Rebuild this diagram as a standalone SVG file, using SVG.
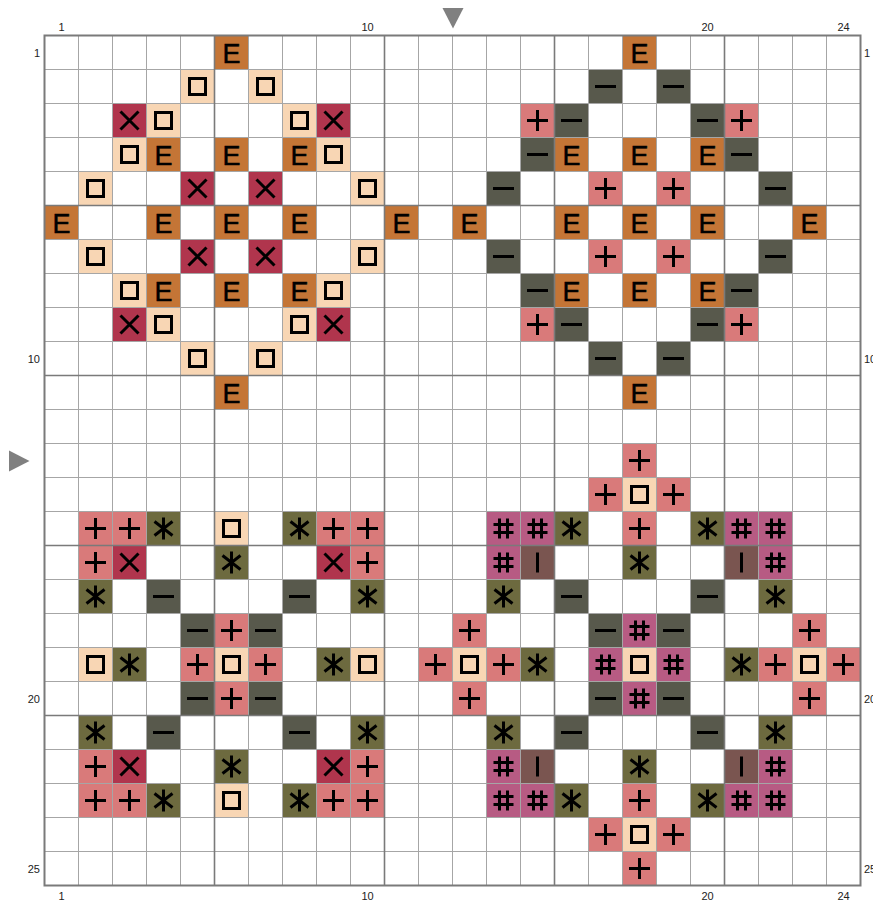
<svg xmlns="http://www.w3.org/2000/svg" xmlns:xlink="http://www.w3.org/1999/xlink" width="873" height="902" viewBox="0 0 873 902">
<style>
.g{stroke:#000;stroke-width:3;fill:none;stroke-linecap:butt}
.et{font-family:"Liberation Sans",Arial,sans-serif;font-size:28px;fill:#000;stroke:#000;stroke-width:0.5;text-anchor:middle}
.lb{font-family:"Liberation Sans",Arial,sans-serif;font-size:11px;fill:#222}
.minor{stroke:#a6a6a6;stroke-width:1}
.major{stroke:#7a7a7a;stroke-width:1.6}
</style>
<defs>
<g id="S"><rect width="34" height="34" fill="#f8d6b4"/><rect class="g" x="9" y="9" width="16" height="16"/></g>
<g id="X"><rect width="34" height="34" fill="#b0354d"/><path class="g" d="M8 8L26 26M26 8L8 26"/></g>
<g id="M"><rect width="34" height="34" fill="#58594c"/><path class="g" d="M6.5 17H27.5"/></g>
<g id="P"><rect width="34" height="34" fill="#d97a7a"/><path class="g" d="M6.5 17H27.5M17 6.5V27.5"/></g>
<g id="A"><rect width="34" height="34" fill="#6d6a3f"/><path class="g" d="M17 6V28M8 10L26 24M26 10L8 24"/></g>
<g id="H"><rect width="34" height="34" fill="#b75b83"/><path class="g" d="M13 7V27M21 7V27M7 13H27M7 21H27"/></g>
<g id="I"><rect width="34" height="34" fill="#7a5550"/><path class="g" d="M17 7V27"/></g>
<rect id="Eb" width="34" height="34" fill="#c47536"/>
</defs>
<g id="pattern-top-left">
<use href="#Eb" x="214.5" y="35.5"/><text class="et" x="231.5" y="62.5" textLength="18" lengthAdjust="spacingAndGlyphs">E</text>
<use href="#S" x="180.5" y="69.5"/><use href="#S" x="248.5" y="69.5"/>
<use href="#X" x="112.5" y="103.5"/><use href="#S" x="146.5" y="103.5"/><use href="#S" x="282.5" y="103.5"/><use href="#X" x="316.5" y="103.5"/>
<use href="#S" x="112.5" y="137.5"/><use href="#Eb" x="146.5" y="137.5"/><text class="et" x="163.5" y="164.5" textLength="18" lengthAdjust="spacingAndGlyphs">E</text><use href="#Eb" x="214.5" y="137.5"/><text class="et" x="231.5" y="164.5" textLength="18" lengthAdjust="spacingAndGlyphs">E</text><use href="#Eb" x="282.5" y="137.5"/><text class="et" x="299.5" y="164.5" textLength="18" lengthAdjust="spacingAndGlyphs">E</text><use href="#S" x="316.5" y="137.5"/>
<use href="#S" x="78.5" y="171.5"/><use href="#X" x="180.5" y="171.5"/><use href="#X" x="248.5" y="171.5"/><use href="#S" x="350.5" y="171.5"/>
<use href="#Eb" x="44.5" y="205.5"/><text class="et" x="61.5" y="232.5" textLength="18" lengthAdjust="spacingAndGlyphs">E</text><use href="#Eb" x="146.5" y="205.5"/><text class="et" x="163.5" y="232.5" textLength="18" lengthAdjust="spacingAndGlyphs">E</text><use href="#Eb" x="214.5" y="205.5"/><text class="et" x="231.5" y="232.5" textLength="18" lengthAdjust="spacingAndGlyphs">E</text><use href="#Eb" x="282.5" y="205.5"/><text class="et" x="299.5" y="232.5" textLength="18" lengthAdjust="spacingAndGlyphs">E</text><use href="#Eb" x="384.5" y="205.5"/><text class="et" x="401.5" y="232.5" textLength="18" lengthAdjust="spacingAndGlyphs">E</text>
<use href="#S" x="78.5" y="239.5"/><use href="#X" x="180.5" y="239.5"/><use href="#X" x="248.5" y="239.5"/><use href="#S" x="350.5" y="239.5"/>
<use href="#S" x="112.5" y="273.5"/><use href="#Eb" x="146.5" y="273.5"/><text class="et" x="163.5" y="300.5" textLength="18" lengthAdjust="spacingAndGlyphs">E</text><use href="#Eb" x="214.5" y="273.5"/><text class="et" x="231.5" y="300.5" textLength="18" lengthAdjust="spacingAndGlyphs">E</text><use href="#Eb" x="282.5" y="273.5"/><text class="et" x="299.5" y="300.5" textLength="18" lengthAdjust="spacingAndGlyphs">E</text><use href="#S" x="316.5" y="273.5"/>
<use href="#X" x="112.5" y="307.5"/><use href="#S" x="146.5" y="307.5"/><use href="#S" x="282.5" y="307.5"/><use href="#X" x="316.5" y="307.5"/>
<use href="#S" x="180.5" y="341.5"/><use href="#S" x="248.5" y="341.5"/>
<use href="#Eb" x="214.5" y="375.5"/><text class="et" x="231.5" y="402.5" textLength="18" lengthAdjust="spacingAndGlyphs">E</text>
</g>
<g id="pattern-top-right">
<use href="#Eb" x="622.5" y="35.5"/><text class="et" x="639.5" y="62.5" textLength="18" lengthAdjust="spacingAndGlyphs">E</text>
<use href="#M" x="588.5" y="69.5"/><use href="#M" x="656.5" y="69.5"/>
<use href="#P" x="520.5" y="103.5"/><use href="#M" x="554.5" y="103.5"/><use href="#M" x="690.5" y="103.5"/><use href="#P" x="724.5" y="103.5"/>
<use href="#M" x="520.5" y="137.5"/><use href="#Eb" x="554.5" y="137.5"/><text class="et" x="571.5" y="164.5" textLength="18" lengthAdjust="spacingAndGlyphs">E</text><use href="#Eb" x="622.5" y="137.5"/><text class="et" x="639.5" y="164.5" textLength="18" lengthAdjust="spacingAndGlyphs">E</text><use href="#Eb" x="690.5" y="137.5"/><text class="et" x="707.5" y="164.5" textLength="18" lengthAdjust="spacingAndGlyphs">E</text><use href="#M" x="724.5" y="137.5"/>
<use href="#M" x="486.5" y="171.5"/><use href="#P" x="588.5" y="171.5"/><use href="#P" x="656.5" y="171.5"/><use href="#M" x="758.5" y="171.5"/>
<use href="#Eb" x="452.5" y="205.5"/><text class="et" x="469.5" y="232.5" textLength="18" lengthAdjust="spacingAndGlyphs">E</text><use href="#Eb" x="554.5" y="205.5"/><text class="et" x="571.5" y="232.5" textLength="18" lengthAdjust="spacingAndGlyphs">E</text><use href="#Eb" x="622.5" y="205.5"/><text class="et" x="639.5" y="232.5" textLength="18" lengthAdjust="spacingAndGlyphs">E</text><use href="#Eb" x="690.5" y="205.5"/><text class="et" x="707.5" y="232.5" textLength="18" lengthAdjust="spacingAndGlyphs">E</text><use href="#Eb" x="792.5" y="205.5"/><text class="et" x="809.5" y="232.5" textLength="18" lengthAdjust="spacingAndGlyphs">E</text>
<use href="#M" x="486.5" y="239.5"/><use href="#P" x="588.5" y="239.5"/><use href="#P" x="656.5" y="239.5"/><use href="#M" x="758.5" y="239.5"/>
<use href="#M" x="520.5" y="273.5"/><use href="#Eb" x="554.5" y="273.5"/><text class="et" x="571.5" y="300.5" textLength="18" lengthAdjust="spacingAndGlyphs">E</text><use href="#Eb" x="622.5" y="273.5"/><text class="et" x="639.5" y="300.5" textLength="18" lengthAdjust="spacingAndGlyphs">E</text><use href="#Eb" x="690.5" y="273.5"/><text class="et" x="707.5" y="300.5" textLength="18" lengthAdjust="spacingAndGlyphs">E</text><use href="#M" x="724.5" y="273.5"/>
<use href="#P" x="520.5" y="307.5"/><use href="#M" x="554.5" y="307.5"/><use href="#M" x="690.5" y="307.5"/><use href="#P" x="724.5" y="307.5"/>
<use href="#M" x="588.5" y="341.5"/><use href="#M" x="656.5" y="341.5"/>
<use href="#Eb" x="622.5" y="375.5"/><text class="et" x="639.5" y="402.5" textLength="18" lengthAdjust="spacingAndGlyphs">E</text>
</g>
<g id="pattern-bottom-left">
<use href="#P" x="78.5" y="511.5"/><use href="#P" x="112.5" y="511.5"/><use href="#A" x="146.5" y="511.5"/><use href="#S" x="214.5" y="511.5"/><use href="#A" x="282.5" y="511.5"/><use href="#P" x="316.5" y="511.5"/><use href="#P" x="350.5" y="511.5"/>
<use href="#P" x="78.5" y="545.5"/><use href="#X" x="112.5" y="545.5"/><use href="#A" x="214.5" y="545.5"/><use href="#X" x="316.5" y="545.5"/><use href="#P" x="350.5" y="545.5"/>
<use href="#A" x="78.5" y="579.5"/><use href="#M" x="146.5" y="579.5"/><use href="#M" x="282.5" y="579.5"/><use href="#A" x="350.5" y="579.5"/>
<use href="#M" x="180.5" y="613.5"/><use href="#P" x="214.5" y="613.5"/><use href="#M" x="248.5" y="613.5"/>
<use href="#S" x="78.5" y="647.5"/><use href="#A" x="112.5" y="647.5"/><use href="#P" x="180.5" y="647.5"/><use href="#S" x="214.5" y="647.5"/><use href="#P" x="248.5" y="647.5"/><use href="#A" x="316.5" y="647.5"/><use href="#S" x="350.5" y="647.5"/>
<use href="#M" x="180.5" y="681.5"/><use href="#P" x="214.5" y="681.5"/><use href="#M" x="248.5" y="681.5"/>
<use href="#A" x="78.5" y="715.5"/><use href="#M" x="146.5" y="715.5"/><use href="#M" x="282.5" y="715.5"/><use href="#A" x="350.5" y="715.5"/>
<use href="#P" x="78.5" y="749.5"/><use href="#X" x="112.5" y="749.5"/><use href="#A" x="214.5" y="749.5"/><use href="#X" x="316.5" y="749.5"/><use href="#P" x="350.5" y="749.5"/>
<use href="#P" x="78.5" y="783.5"/><use href="#P" x="112.5" y="783.5"/><use href="#A" x="146.5" y="783.5"/><use href="#S" x="214.5" y="783.5"/><use href="#A" x="282.5" y="783.5"/><use href="#P" x="316.5" y="783.5"/><use href="#P" x="350.5" y="783.5"/>
</g>
<g id="pattern-bottom-right">
<use href="#P" x="622.5" y="443.5"/>
<use href="#P" x="588.5" y="477.5"/><use href="#S" x="622.5" y="477.5"/><use href="#P" x="656.5" y="477.5"/>
<use href="#H" x="486.5" y="511.5"/><use href="#H" x="520.5" y="511.5"/><use href="#A" x="554.5" y="511.5"/><use href="#P" x="622.5" y="511.5"/><use href="#A" x="690.5" y="511.5"/><use href="#H" x="724.5" y="511.5"/><use href="#H" x="758.5" y="511.5"/>
<use href="#H" x="486.5" y="545.5"/><use href="#I" x="520.5" y="545.5"/><use href="#A" x="622.5" y="545.5"/><use href="#I" x="724.5" y="545.5"/><use href="#H" x="758.5" y="545.5"/>
<use href="#A" x="486.5" y="579.5"/><use href="#M" x="554.5" y="579.5"/><use href="#M" x="690.5" y="579.5"/><use href="#A" x="758.5" y="579.5"/>
<use href="#P" x="452.5" y="613.5"/><use href="#M" x="588.5" y="613.5"/><use href="#H" x="622.5" y="613.5"/><use href="#M" x="656.5" y="613.5"/><use href="#P" x="792.5" y="613.5"/>
<use href="#P" x="418.5" y="647.5"/><use href="#S" x="452.5" y="647.5"/><use href="#P" x="486.5" y="647.5"/><use href="#A" x="520.5" y="647.5"/><use href="#H" x="588.5" y="647.5"/><use href="#S" x="622.5" y="647.5"/><use href="#H" x="656.5" y="647.5"/><use href="#A" x="724.5" y="647.5"/><use href="#P" x="758.5" y="647.5"/><use href="#S" x="792.5" y="647.5"/><use href="#P" x="826.5" y="647.5"/>
<use href="#P" x="452.5" y="681.5"/><use href="#M" x="588.5" y="681.5"/><use href="#H" x="622.5" y="681.5"/><use href="#M" x="656.5" y="681.5"/><use href="#P" x="792.5" y="681.5"/>
<use href="#A" x="486.5" y="715.5"/><use href="#M" x="554.5" y="715.5"/><use href="#M" x="690.5" y="715.5"/><use href="#A" x="758.5" y="715.5"/>
<use href="#H" x="486.5" y="749.5"/><use href="#I" x="520.5" y="749.5"/><use href="#A" x="622.5" y="749.5"/><use href="#I" x="724.5" y="749.5"/><use href="#H" x="758.5" y="749.5"/>
<use href="#H" x="486.5" y="783.5"/><use href="#H" x="520.5" y="783.5"/><use href="#A" x="554.5" y="783.5"/><use href="#P" x="622.5" y="783.5"/><use href="#A" x="690.5" y="783.5"/><use href="#H" x="724.5" y="783.5"/><use href="#H" x="758.5" y="783.5"/>
<use href="#P" x="588.5" y="817.5"/><use href="#S" x="622.5" y="817.5"/><use href="#P" x="656.5" y="817.5"/>
<use href="#P" x="622.5" y="851.5"/>
</g>
<g id="grid">
<path class="minor" d="M78.5 35.5V885.5M112.5 35.5V885.5M146.5 35.5V885.5M180.5 35.5V885.5M248.5 35.5V885.5M282.5 35.5V885.5M316.5 35.5V885.5M350.5 35.5V885.5M418.5 35.5V885.5M452.5 35.5V885.5M486.5 35.5V885.5M520.5 35.5V885.5M588.5 35.5V885.5M622.5 35.5V885.5M656.5 35.5V885.5M690.5 35.5V885.5M758.5 35.5V885.5M792.5 35.5V885.5M826.5 35.5V885.5"/>
<path class="minor" d="M44.5 69.5H860.5M44.5 103.5H860.5M44.5 137.5H860.5M44.5 171.5H860.5M44.5 239.5H860.5M44.5 273.5H860.5M44.5 307.5H860.5M44.5 341.5H860.5M44.5 409.5H860.5M44.5 443.5H860.5M44.5 477.5H860.5M44.5 511.5H860.5M44.5 579.5H860.5M44.5 613.5H860.5M44.5 647.5H860.5M44.5 681.5H860.5M44.5 749.5H860.5M44.5 783.5H860.5M44.5 817.5H860.5M44.5 851.5H860.5"/>
<path class="major" d="M214.5 35.5V885.5M384.5 35.5V885.5M554.5 35.5V885.5M724.5 35.5V885.5M44.5 205.5H860.5M44.5 375.5H860.5M44.5 545.5H860.5M44.5 715.5H860.5"/>
<rect x="44.5" y="35.5" width="816" height="850" fill="none" stroke="#7a7a7a" stroke-width="2"/>
</g>
<g id="markers" fill="#808080">
<path d="M442.5 8H463.5L453 28.5Z"/>
<path d="M9 450.5V471.5L29.5 461Z"/>
</g>
<g id="labels" class="lb">
<text x="61.5" y="31" text-anchor="middle">1</text>
<text x="367.5" y="31" text-anchor="middle">10</text>
<text x="707.5" y="31" text-anchor="middle">20</text>
<text x="843.5" y="31" text-anchor="middle">24</text>
<text x="61.5" y="900" text-anchor="middle">1</text>
<text x="367.5" y="900" text-anchor="middle">10</text>
<text x="707.5" y="900" text-anchor="middle">20</text>
<text x="843.5" y="900" text-anchor="middle">24</text>
<text x="40" y="56.5" text-anchor="end">1</text>
<text x="40" y="362.5" text-anchor="end">10</text>
<text x="40" y="702.5" text-anchor="end">20</text>
<text x="40" y="872.5" text-anchor="end">25</text>
<text x="864" y="56.5">1</text>
<text x="864" y="362.5">10</text>
<text x="864" y="702.5">20</text>
<text x="864" y="872.5">25</text>
</g>
</svg>
